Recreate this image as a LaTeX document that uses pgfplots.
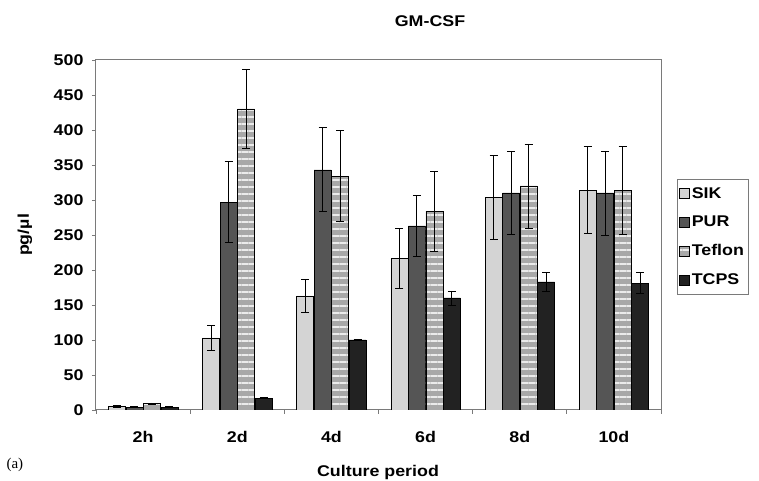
\documentclass[border=0pt]{standalone}
\usepackage{pgfplots}
\pgfplotsset{compat=1.18}
\usepackage{pgfplotstable}
\usetikzlibrary{patterns.meta}
\usepackage{fontspec}
\setmainfont{Liberation Sans}[FakeStretch=1.15]
\newfontfamily\serifx{Liberation Serif}
\definecolor{sik}{HTML}{D4D4D4}
\definecolor{pur}{HTML}{555555}
\definecolor{tef}{HTML}{A8A8A8}
\definecolor{tcps}{HTML}{222222}
\definecolor{axgray}{HTML}{7A7A7A}
\newcommand{\chfont}{\bfseries\fontsize{15.5bp}{18bp}\selectfont}

\pgfplotstableread{
x y e
0 5 1
1 103 18
2 163 23
3 216 43
4 304 60
5 314 62
}\sik
\pgfplotstableread{
x y e
0 4 1
1 297 58
2 343 60
3 263 44
4 310 59
5 310 60
}\pur
\pgfplotstableread{
x y e
0 9 1
1 430 57
2 334 65
3 284 57
4 320 60
5 314 63
}\tef
\pgfplotstableread{
x y e
0 4 1
1 17 1
2 100 1
3 160 10
4 183 14
5 181 15
}\tcps

\begin{document}
\begin{tikzpicture}[x=1bp,y=1bp]
\useasboundingbox (-96,-71) rectangle (663,410);
\begin{axis}[
  at={(0,0)}, anchor=south west,
  scale only axis, width=565bp, height=350bp,
  ybar=0.5bp, bar width=17bp,
  xmin=-0.5, xmax=5.5, ymin=0, ymax=500,
  xtick={0,...,5}, xticklabels={2h,2d,4d,6d,8d,10d},
  minor xtick={-0.5,0.5,...,5.5},
  ytick={0,50,...,500},
  major x tick style={draw=none},
  minor tick length=4bp,
  major tick length=4bp,
  tick align=outside,
  xtick pos=bottom, ytick pos=left,
  tick style={axgray, line width=0.8bp},
  axis line style={axgray, line width=1bp},
  font=\chfont,
  tick label style={font=\chfont},
  /pgf/number format/assume math mode=true,
  xticklabel style={yshift=-14bp},
  yticklabel style={xshift=-5bp},
  ylabel={pg/µl},
  ylabel style={at={(-71bp,175bp)}, anchor=center},
  xlabel={Culture period},
  xlabel style={at={(282bp,-62bp)}, anchor=center},
  title={GM-CSF},
  title style={at={(334bp,383bp)}, anchor=center},
  legend style={at={(581bp,231bp)}, anchor=north west, draw=axgray,
    font=\chfont, row sep=12.5bp,
    inner xsep=2bp, inner ysep=6bp, cells={anchor=west}},
  legend image code/.code={\draw[#1, draw=black, line width=0.6bp] (0bp,-5bp) rectangle (10bp,5bp);},
  error bars/error bar style={black, line width=0.9bp},
  error bars/error mark options={rotate=90, mark size=4bp, black, line width=0.9bp},
]
\addplot[fill=sik, draw=black, line width=0.6bp,
  error bars/.cd, y dir=both, y explicit] table[x=x, y=y, y error=e] {\sik};
\addplot[fill=pur, draw=black, line width=0.6bp,
  error bars/.cd, y dir=both, y explicit] table[x=x, y=y, y error=e] {\pur};
\addplot[fill=tef, draw=black, line width=0.6bp,
  postaction={pattern={Lines[angle=0, distance=7bp, line width=2.2bp]}, pattern color=white!92!black},
  error bars/.cd, y dir=both, y explicit] table[x=x, y=y, y error=e] {\tef};
\addplot[fill=tcps, draw=black, line width=0.6bp,
  error bars/.cd, y dir=both, y explicit] table[x=x, y=y, y error=e] {\tcps};
\legend{SIK,PUR,Teflon,TCPS}
\end{axis}
\draw[axgray, line width=1bp] (0,350) -- (565,350) -- (565,0);
\node[font=\serifx\fontsize{15bp}{17bp}\selectfont, anchor=west] at (-93,-55) {(a)};
\end{tikzpicture}
\end{document}
